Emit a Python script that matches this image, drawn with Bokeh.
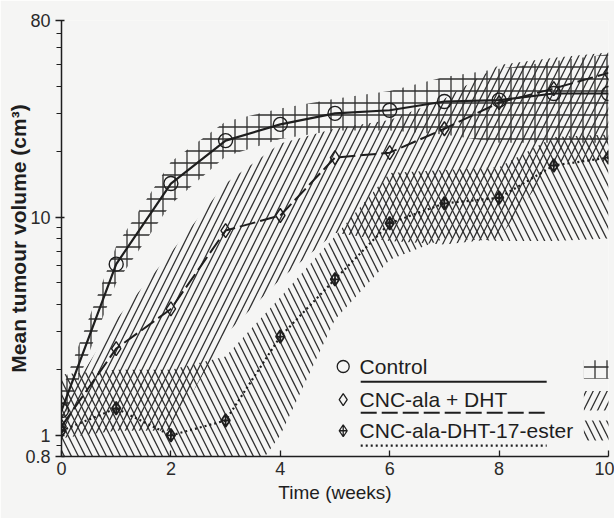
from bokeh.plotting import figure
from bokeh.models import FixedTicker, Range1d
from bokeh.embed import file_html
from bokeh.resources import INLINE
from bokeh.core.properties import value

# ---------------- data ----------------
weeks = [0, 1, 2, 3, 4, 5, 6, 7, 8, 9, 10]

control = [1.3, 6.1, 14.3, 22.5, 26.7, 30, 31, 34, 34.5, 37, 37]
control_lo = [1.13, 5.0, 11.5, 19, 22.9, 25, 25, 24, 22, 22, 22]
control_hi = [1.6, 7.4, 18, 27.5, 31.6, 35, 38, 44, 48, 52, 56]

dht = [1.1, 2.5, 3.8, 8.7, 10.2, 18.8, 19.8, 25.5, 33.6, 39, 46]
dht_lo = [0.97, 1.05, 1.05, 2.9, 5.2, 8.5, 7.8, 7.5, 8.0, 18, 18]
dht_hi = [1.35, 3.4, 6.9, 14.3, 21.8, 25.6, 28, 35, 50, 54, 57]

ester = [1.05, 1.33, 1.0, 1.17, 2.84, 5.2, 9.4, 11.6, 12.3, 17.3, 18.8]
ester_lo = [0.45, 0.45, 0.45, 0.45, 1.0, 3.4, 6.4, 8.0, 7.8, 7.8, 8.0]
ester_hi = [1.9, 2.0, 2.0, 2.3, 4.3, 8.2, 16, 16.5, 17, 23.4, 24]

series_names = ["Control", "CNC-ala + DHT", "CNC-ala-DHT-17-ester"]
x_ticks = [0, 2, 4, 6, 8, 10]
y_ticks = [0.8, 1, 10, 80]
y_minor = [0.9, 2, 3, 4, 5, 6, 7, 8, 9, 20, 30, 40, 50, 60, 70]
y_tick_labels = ["0.8", "1", "10", "80"]

# ---------------- style ----------------
BG = "#f5f5f4"
INK = "#1e1e1e"
HATCH = "#303030"
FONT = "Liberation Sans"
DIAG_SCALE = 14
GRID_SCALE = 12

p = figure(width=614, height=518, x_range=Range1d(0, 10), y_range=Range1d(0.8, 80),
           y_axis_type="log", output_backend="svg", toolbar_location=None,
           min_border_left=61, min_border_right=6, min_border_top=20, min_border_bottom=62,
           background_fill_color=BG, border_fill_color=BG, outline_line_color=None)
p.grid.visible = False

# bands
p.varea(x=weeks, y1=ester_lo, y2=ester_hi, fill_alpha=0, hatch_pattern="\\",
        hatch_scale=DIAG_SCALE, hatch_weight=1.3, hatch_color=HATCH)
p.varea(x=weeks, y1=dht_lo, y2=dht_hi, fill_alpha=0, hatch_pattern="/",
        hatch_scale=DIAG_SCALE, hatch_weight=1.3, hatch_color=HATCH)
p.varea(x=weeks, y1=control_lo, y2=control_hi, fill_alpha=0, hatch_pattern="+",
        hatch_scale=GRID_SCALE, hatch_weight=1.3, hatch_color=HATCH)

# lines
p.line(weeks, control, line_color=INK, line_width=2.2)
p.line(weeks, dht, line_color=INK, line_width=2.0, line_dash="16 5")
p.line(weeks, ester, line_color=INK, line_width=2.2, line_dash="2 3")

# markers
p.scatter(weeks, control, marker="circle", size=14, fill_alpha=0, line_color=INK, line_width=1.4)
p.scatter(weeks, dht, marker="diamond", size=14, fill_alpha=0, line_color=INK, line_width=1.4)
p.scatter(weeks, ester, marker="diamond_cross", size=13, fill_alpha=0, line_color=INK, line_width=1.8)

# ---------------- legend (drawn by hand) ----------------
leg_marker_x = 5.15
leg_text_x = 5.45
leg_line_end = 8.87
leg_rows_y = [2.07, 1.46, 1.05]
leg_under_y = [1.76, 1.27, 0.898]
leg_markers = ["circle", "diamond", "diamond_cross"]
leg_dash = ["solid", "16 5", "2 3"]
leg_hatch = ["+", "/", "\\"]
leg_hatch_bounds = [(1.82, 2.21), (1.30, 1.60), (0.947, 1.17)]

for i in range(3):
    p.scatter([leg_marker_x], [leg_rows_y[i]], marker=leg_markers[i], size=12,
              fill_alpha=0, line_color=INK, line_width=1.3)
    p.text([leg_text_x], [leg_rows_y[i]], text=[series_names[i]], text_baseline="middle",
           text_align="left", text_font=value(FONT), text_font_size="21px", text_color=INK)
    p.line([leg_text_x + 0.02, leg_line_end], [leg_under_y[i], leg_under_y[i]], line_color=INK,
           line_width=2.0 if i < 2 else 2.2, line_dash=leg_dash[i])
    b, t = leg_hatch_bounds[i]
    p.quad(left=[9.55], right=[10.2], bottom=[b], top=[t], fill_alpha=0, line_alpha=0,
           hatch_pattern=leg_hatch[i], hatch_scale=DIAG_SCALE if i else GRID_SCALE,
           hatch_weight=1.3, hatch_color=HATCH)

# ---------------- axes ----------------
for ax in (p.xaxis[0], p.yaxis[0]):
    ax.axis_line_color = INK
    ax.axis_line_width = 1.5
    ax.major_tick_line_color = INK
    ax.minor_tick_line_color = INK
    ax.major_tick_line_width = 1.3
    ax.minor_tick_line_width = 1.2
    ax.major_label_text_font = FONT
    ax.major_label_text_font_size = "18px"
    ax.major_label_text_color = "#2a2a2a"
    ax.axis_label_text_font = FONT
    ax.axis_label_text_color = INK
    ax.axis_label_text_font_style = "normal"

xa = p.xaxis[0]
xa.ticker = FixedTicker(ticks=x_ticks, minor_ticks=[])
xa.major_tick_in = 6
xa.major_tick_out = 0
xa.minor_tick_in = 0
xa.minor_tick_out = 0
xa.major_label_standoff = 5
xa.axis_label = "Time (weeks)"
xa.axis_label_text_font_size = "19px"
xa.axis_label_standoff = 4

ya = p.yaxis[0]
ya.ticker = FixedTicker(ticks=y_ticks, minor_ticks=y_minor)
ya.major_label_overrides = {t: s for t, s in zip(y_ticks, y_tick_labels)}
ya.major_tick_in = 3
ya.major_tick_out = 6
ya.minor_tick_in = 0
ya.minor_tick_out = 5
ya.major_label_standoff = 5
ya.axis_label = "Mean tumour volume (cm³)"
ya.axis_label_text_font_size = "21px"
ya.axis_label_text_font_style = "bold"
ya.axis_label_standoff = -8

open("out.html", "w").write(file_html(p, INLINE))
